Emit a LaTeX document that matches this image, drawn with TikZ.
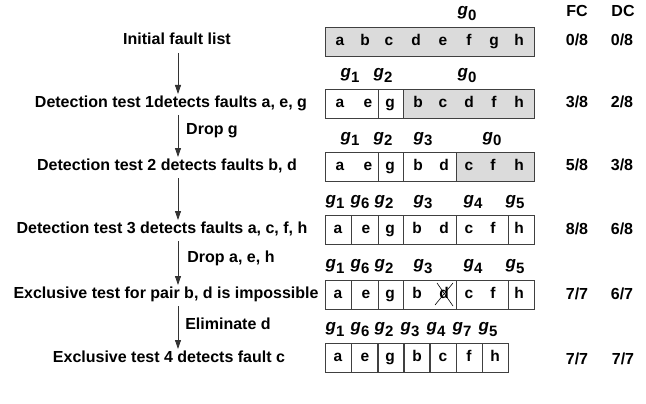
\documentclass[tikz,border=0pt]{standalone}
\usepackage{fontspec}
\setmainfont{Liberation Sans}
\usetikzlibrary{arrows.meta}
\newcommand{\gsub}[1]{\textit{g}\raisebox{-5pt}{\fontsize{15}{15}\selectfont #1}}
\begin{document}
\begin{tikzpicture}[x=1pt,y=-1pt,
  txt/.style={font=\bfseries\fontsize{16}{16}\selectfont, inner sep=0pt, text height=11.5pt, text depth=3.5pt},
  let/.style={font=\bfseries\fontsize{15.5}{16}\selectfont, inner sep=0pt, text height=11pt, text depth=3.5pt},
  glbl/.style={font=\bfseries\fontsize{17}{17}\selectfont, inner sep=0pt, text height=12pt, text depth=8pt},
  cell/.style={draw=black!75, line width=0.8pt, inner sep=0pt, minimum height=29pt, anchor=north west},
  gcell/.style={cell, fill=black!14},
  flow/.style={draw=black!80, line width=0.8pt, -{Triangle[length=9pt,width=6pt]}}]
\useasboundingbox (0,0) rectangle (646,404);

% header
\node[glbl] (h0) at (467,14) {\gsub{0}};
\node[txt] (fc) at (577,13) {FC};
\node[txt] (dc) at (623,13) {DC};

% left texts
\node[txt] (t1) at (177,41) {Initial fault list};
\node[txt] (t2) at (171,103) {Detection test 1detects faults a, e, g};
\node[txt] (t3) at (167,166) {Detection test 2 detects faults b, d};
\node[txt] (t4) at (162,229) {Detection test 3 detects faults a, c, f, h};
\node[txt] (t5) at (166,294) {Exclusive test for pair b, d is impossible};
\node[txt] (t6) at (169,358) {Exclusive test 4 detects fault c};

\coordinate (a1s) at (178,53);  \coordinate (a1e) at (178,94);
\coordinate (a2s) at (178,115); \coordinate (a2e) at (178,157);
\coordinate (a3s) at (178,178); \coordinate (a3e) at (178,220);
\coordinate (a4s) at (178,241); \coordinate (a4e) at (178,285);
\coordinate (a5s) at (178,306); \coordinate (a5e) at (178,349);
\draw[flow] (a1s) -- (a1e);
\draw[flow] (a2s) -- (a2e);
\draw[flow] (a3s) -- (a3e);
\draw[flow] (a4s) -- (a4e);
\draw[flow] (a5s) -- (a5e);
\node[txt] (l1) at (212,131) {Drop g};
\node[txt] (l2) at (231,258) {Drop a, e, h};
\node[txt] (l3) at (228,325) {Eliminate d};

% row 1
\node[gcell, minimum width=209pt] (r1c1) at (325,27) {};
\foreach \l/\x in {a/340,b/365,c/389,d/416,e/443,f/469,g/494,h/519}
  \node[let] (r1\l) at (\x,42) {\l};
\node[txt] (r1fc) at (577,42) {0/8};
\node[txt] (r1dc) at (622,42) {0/8};

% row 2
\node[glbl] (r2g1) at (350,76) {\gsub{1}};
\node[glbl] (r2g2) at (383,76) {\gsub{2}};
\node[glbl] (r2g0) at (467,76) {\gsub{0}};
\node[cell, minimum width=53pt] (r2c1) at (325,89) {};
\node[cell, minimum width=25pt] (r2c2) at (378,89) {};
\node[gcell, minimum width=131pt] (r2c3) at (403,89) {};
\foreach \l/\x in {a/340,e/368,g/390,b/418,c/443,d/469,f/494,h/519}
  \node[let] (r2\l) at (\x,104) {\l};
\node[txt] (r2fc) at (577,104) {3/8};
\node[txt] (r2dc) at (622,104) {2/8};

% row 3
\node[glbl] (r3g1) at (350,139) {\gsub{1}};
\node[glbl] (r3g2) at (383,139) {\gsub{2}};
\node[glbl] (r3g3) at (423,139) {\gsub{3}};
\node[glbl] (r3g0) at (492,139) {\gsub{0}};
\node[cell, minimum width=53pt] (r3c1) at (325,152) {};
\node[cell, minimum width=25pt] (r3c2) at (378,152) {};
\node[cell, minimum width=53pt] (r3c3) at (403,152) {};
\node[gcell, minimum width=78pt] (r3c4) at (456,152) {};
\foreach \l/\x in {a/340,e/368,g/390,b/418,d/444,c/469,f/493,h/519}
  \node[let] (r3\l) at (\x,167) {\l};
\node[txt] (r3fc) at (577,167) {5/8};
\node[txt] (r3dc) at (622,167) {3/8};

% row 4
\foreach \g/\x in {1/335,6/360,2/384,3/423,4/473,5/515}
  \node[glbl] (r4g\g) at (\x,202) {\gsub{\g}};
\node[cell, minimum width=26pt] (r4c1) at (325,215) {};
\node[cell, minimum width=27pt] (r4c2) at (351,215) {};
\node[cell, minimum width=25pt] (r4c3) at (378,215) {};
\node[cell, minimum width=53pt] (r4c4) at (403,215) {};
\node[cell, minimum width=52pt] (r4c5) at (456,215) {};
\node[cell, minimum width=26pt] (r4c6) at (508,215) {};
\foreach \l/\x in {a/338,e/366,g/390,b/417,d/444,c/469,f/493,h/519}
  \node[let] (r4\l) at (\x,230) {\l};
\node[txt] (r4fc) at (577,230) {8/8};
\node[txt] (r4dc) at (622,230) {6/8};

% row 5
\foreach \g/\x in {1/335,6/360,2/384,3/423,4/473,5/515}
  \node[glbl] (r5g\g) at (\x,266) {\gsub{\g}};
\node[cell, minimum width=26pt] (r5c1) at (325,280) {};
\node[cell, minimum width=27pt] (r5c2) at (351,280) {};
\node[cell, minimum width=25pt] (r5c3) at (378,280) {};
\node[cell, minimum width=53pt] (r5c4) at (403,280) {};
\node[cell, minimum width=52pt] (r5c5) at (456,280) {};
\node[cell, minimum width=26pt] (r5c6) at (508,280) {};
\foreach \l/\x in {a/338,e/366,g/390,b/417,d/444,c/469,f/493,h/519}
  \node[let] (r5\l) at (\x,295) {\l};
\draw[line width=0.6pt] ([shift={(-9pt,-10pt)}]r5d.center) -- ([shift={(9pt,12pt)}]r5d.center);
\draw[line width=0.6pt] ([shift={(9pt,-11pt)}]r5d.center) -- ([shift={(-7pt,12pt)}]r5d.center);
\node[txt] (r5fc) at (577,295) {7/7};
\node[txt] (r5dc) at (622,295) {6/7};

% row 6
\foreach \g/\x in {1/335,6/360,2/384,3/410,4/436,7/462,5/488}
  \node[glbl] (r6g\g) at (\x,329) {\gsub{\g}};
\foreach \i/\x in {1/325,2/351,3/378,4/403,5/430,6/456,7/482}
  \node[cell, minimum width=26pt] (r6c\i) at (\x,343) {};
\foreach \l/\x in {a/338,e/365,g/390,b/417,c/443,f/469,h/495}
  \node[let] (r6\l) at (\x,358) {\l};
\node[txt] (r6fc) at (577,360) {7/7};
\node[txt] (r6dc) at (623,360) {7/7};
\end{tikzpicture}
\end{document}
